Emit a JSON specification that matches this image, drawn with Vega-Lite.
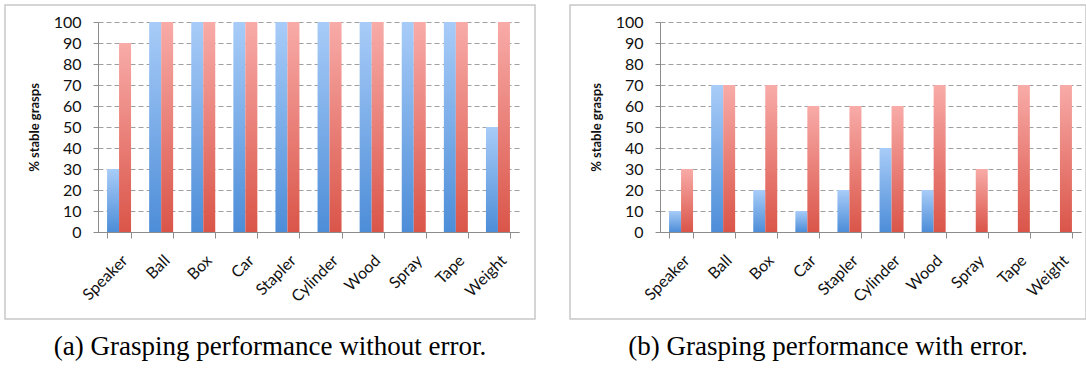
{
  "$schema": "https://vega.github.io/schema/vega-lite/v6.json",
  "padding": {"left": 4, "top": 4, "right": 0, "bottom": 0},
  "background": "white",
  "spacing": 33,
  "datasets": {
    "a": [
      {"object": "Speaker", "series": "s1", "value": 30}, {"object": "Speaker", "series": "s2", "value": 90},
      {"object": "Ball", "series": "s1", "value": 100}, {"object": "Ball", "series": "s2", "value": 100},
      {"object": "Box", "series": "s1", "value": 100}, {"object": "Box", "series": "s2", "value": 100},
      {"object": "Car", "series": "s1", "value": 100}, {"object": "Car", "series": "s2", "value": 100},
      {"object": "Stapler", "series": "s1", "value": 100}, {"object": "Stapler", "series": "s2", "value": 100},
      {"object": "Cylinder", "series": "s1", "value": 100}, {"object": "Cylinder", "series": "s2", "value": 100},
      {"object": "Wood", "series": "s1", "value": 100}, {"object": "Wood", "series": "s2", "value": 100},
      {"object": "Spray", "series": "s1", "value": 100}, {"object": "Spray", "series": "s2", "value": 100},
      {"object": "Tape", "series": "s1", "value": 100}, {"object": "Tape", "series": "s2", "value": 100},
      {"object": "Weight", "series": "s1", "value": 50}, {"object": "Weight", "series": "s2", "value": 100}
    ],
    "b": [
      {"object": "Speaker", "series": "s1", "value": 10}, {"object": "Speaker", "series": "s2", "value": 30},
      {"object": "Ball", "series": "s1", "value": 70}, {"object": "Ball", "series": "s2", "value": 70},
      {"object": "Box", "series": "s1", "value": 20}, {"object": "Box", "series": "s2", "value": 70},
      {"object": "Car", "series": "s1", "value": 10}, {"object": "Car", "series": "s2", "value": 60},
      {"object": "Stapler", "series": "s1", "value": 20}, {"object": "Stapler", "series": "s2", "value": 60},
      {"object": "Cylinder", "series": "s1", "value": 40}, {"object": "Cylinder", "series": "s2", "value": 60},
      {"object": "Wood", "series": "s1", "value": 20}, {"object": "Wood", "series": "s2", "value": 70},
      {"object": "Spray", "series": "s1", "value": 0}, {"object": "Spray", "series": "s2", "value": 30},
      {"object": "Tape", "series": "s1", "value": 0}, {"object": "Tape", "series": "s2", "value": 70},
      {"object": "Weight", "series": "s1", "value": 0}, {"object": "Weight", "series": "s2", "value": 70}
    ]
  },
  "config": {
    "view": {"stroke": "#c8c8c8", "strokeWidth": 1.5},
    "axis": {
      "labelFont": "Lato", "titleFont": "Lato", "labelColor": "#111", "titleColor": "#111",
      "domainColor": "#8c8c8c", "tickColor": "#8c8c8c", "tickSize": 5
    },
    "title": {"font": "Liberation Serif", "fontSize": 27, "fontWeight": "normal", "color": "#000", "orient": "bottom", "offset": 15, "anchor": "middle"}
  },
  "hconcat": [
    {
      "title": "(a) Grasping performance without error.",
      "width": 530, "height": 314,
      "data": {"name": "a"},
      "encoding": {
        "x": {"field": "object", "type": "nominal", "sort": null,
          "scale": {"range": [93, 514], "paddingInner": 0.43, "paddingOuter": 0.215},
          "axis": {"title": null, "offset": -87, "labelAngle": -45, "labelFontSize": 16, "labelPadding": 14, "tickBand": "extent", "tickSize": 6, "grid": false}},
        "y": {"field": "value", "type": "quantitative",
          "scale": {"domain": [0, 100], "range": [227, 17], "nice": false},
          "axis": {"title": "% stable grasps", "titleFontSize": 13, "titleFontWeight": "bold", "titlePadding": 12, "offset": -93, "values": [0,10,20,30,40,50,60,70,80,90,100], "labelFontSize": 16, "labelPadding": 12, "grid": true, "gridColor": "#a0a0a0", "gridDash": [5, 3], "gridWidth": 1}},
        "xOffset": {"field": "series", "type": "nominal", "scale": {"domain": ["s1", "s2"]}}
      },
      "layer": [
        {"transform": [{"filter": "datum.series === 's1'"}],
         "mark": {"type": "bar", "color": {"gradient": "linear", "x1": 0, "y1": 0, "x2": 0, "y2": 1, "stops": [{"offset": 0, "color": "#a8ccf8"}, {"offset": 1, "color": "#4d8dd8"}]}}},
        {"transform": [{"filter": "datum.series === 's2'"}],
         "mark": {"type": "bar", "color": {"gradient": "linear", "x1": 0, "y1": 0, "x2": 0, "y2": 1, "stops": [{"offset": 0, "color": "#f8aba8"}, {"offset": 1, "color": "#da5549"}]}}}
      ]
    },
    {
      "title": "(b) Grasping performance with error.",
      "width": 516, "height": 314,
      "data": {"name": "b"},
      "encoding": {
        "x": {"field": "object", "type": "nominal", "sort": null,
          "scale": {"range": [90, 511], "paddingInner": 0.43, "paddingOuter": 0.215},
          "axis": {"title": null, "offset": -87, "labelAngle": -45, "labelFontSize": 16, "labelPadding": 14, "tickBand": "extent", "tickSize": 6, "grid": false}},
        "y": {"field": "value", "type": "quantitative",
          "scale": {"domain": [0, 100], "range": [227, 17], "nice": false},
          "axis": {"title": "% stable grasps", "titleFontSize": 13, "titleFontWeight": "bold", "titlePadding": 12, "offset": -90, "values": [0,10,20,30,40,50,60,70,80,90,100], "labelFontSize": 16, "labelPadding": 12, "grid": true, "gridColor": "#a0a0a0", "gridDash": [5, 3], "gridWidth": 1}},
        "xOffset": {"field": "series", "type": "nominal", "scale": {"domain": ["s1", "s2"]}}
      },
      "layer": [
        {"transform": [{"filter": "datum.series === 's1'"}],
         "mark": {"type": "bar", "color": {"gradient": "linear", "x1": 0, "y1": 0, "x2": 0, "y2": 1, "stops": [{"offset": 0, "color": "#a8ccf8"}, {"offset": 1, "color": "#4d8dd8"}]}}},
        {"transform": [{"filter": "datum.series === 's2'"}],
         "mark": {"type": "bar", "color": {"gradient": "linear", "x1": 0, "y1": 0, "x2": 0, "y2": 1, "stops": [{"offset": 0, "color": "#f8aba8"}, {"offset": 1, "color": "#da5549"}]}}}
      ]
    }
  ]
}
